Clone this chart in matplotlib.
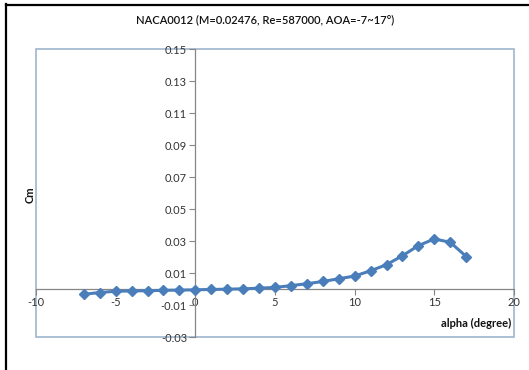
import matplotlib
matplotlib.use("Agg")
import matplotlib.pyplot as plt
from matplotlib.patches import Rectangle
from matplotlib.lines import Line2D

alpha = [-7, -6, -5, -4, -3, -2, -1, 0, 1, 2, 3, 4, 5, 6, 7, 8, 9, 10, 11, 12, 13, 14, 15, 16, 17]
cm = [-0.0033, -0.0022, -0.0014, -0.0012, -0.0011, -0.0008, -0.0007, -0.0005, -0.0003, -0.0001,
      0.0001, 0.0005, 0.0010, 0.0021, 0.0033, 0.0047, 0.0064, 0.0081, 0.0114, 0.0152, 0.0208,
      0.0271, 0.0313, 0.0292, 0.0203]
x_ticks = [-10, -5, 0, 5, 10, 15, 20]
y_ticks = [-0.03, -0.01, 0.01, 0.03, 0.05, 0.07, 0.09, 0.11, 0.13, 0.15]
title = "NACA0012 (M=0.02476, Re=587000, AOA=-7~17°)"

plt.rcParams['font.family'] = ['Lato', 'DejaVu Sans']

W, H = 529, 370
fig = plt.figure(figsize=(W / 100, H / 100), dpi=100)
ax = fig.add_axes([36 / W, 1 - 337 / H, (514 - 36) / W, (337 - 49) / H])
ax.set_xlim(-10, 20)
ax.set_ylim(-0.03, 0.15)

box_c = '#9FB6CD'
for s in ['top', 'right']:
    ax.spines[s].set_visible(False)
ax.add_patch(Rectangle((0, 0), 1, 1, transform=ax.transAxes, fill=False,
                       edgecolor=box_c, lw=1.2, zorder=0, clip_on=False))
axis_c = '#868686'
ax.spines['left'].set_position(('data', 0))
ax.spines['bottom'].set_position(('data', 0))
ax.spines['left'].set_color(axis_c)
ax.spines['bottom'].set_color(axis_c)
ax.spines['left'].set_linewidth(0.9)
ax.spines['bottom'].set_linewidth(0.9)

ax.set_xticks(x_ticks)
ax.set_xticklabels([str(v) for v in x_ticks])
ax.set_yticks(y_ticks)
ax.set_yticklabels([f"{v:.2f}" for v in y_ticks])
ax.tick_params(axis='both', colors=axis_c, labelcolor='#333333', labelsize=8,
               length=4, width=0.8, direction='out', pad=2)

ax.plot(alpha, cm, color='#4A7EBB', lw=2.2, marker='D', markersize=5.5,
        markerfacecolor='#4A7EBB', markeredgecolor='#4A7EBB', zorder=3, clip_on=False)

fig.text(265 / W, 1 - 20 / H, title, ha='center', va='center', fontsize=8,
         fontweight='semibold', color='#111111')
fig.text(30 / W, 1 - 195 / H, 'Cm', rotation=90, ha='center', va='center',
         fontsize=8, fontweight='bold', color='#111111')
fig.text(511 / W, 1 - 323 / H, 'alpha (degree)', ha='right', va='center',
         fontsize=8, fontweight='bold', color='#111111')

# outer frame (left and top edges)
fig.add_artist(Line2D([6 / W, 6 / W], [0, 1 - 4 / H], transform=fig.transFigure,
                      color='black', lw=1.6))
fig.add_artist(Line2D([6 / W, 1], [1 - 4.5 / H, 1 - 4.5 / H], transform=fig.transFigure,
                      color='black', lw=1.6))

fig.savefig('out.png', dpi=100)
